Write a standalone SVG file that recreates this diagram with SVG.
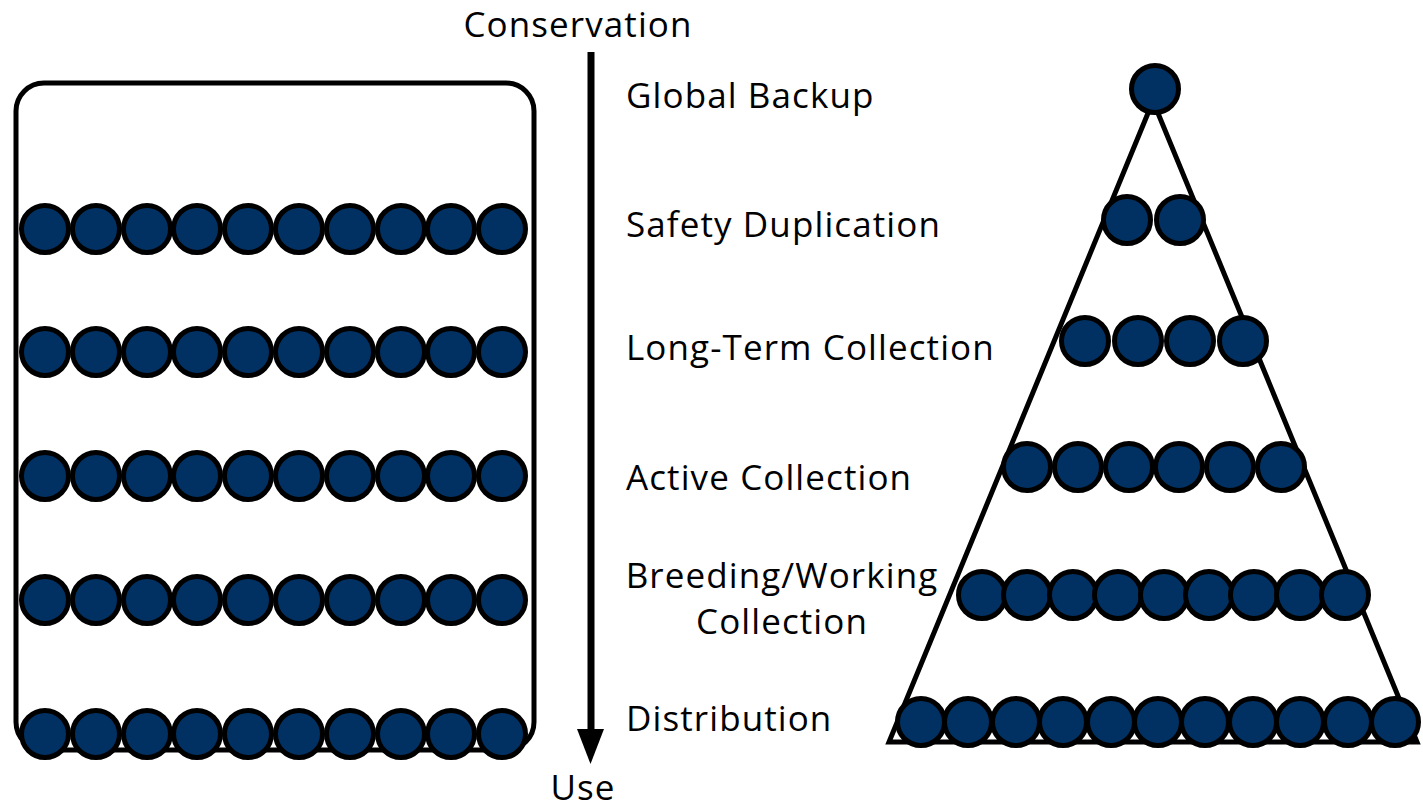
<svg xmlns="http://www.w3.org/2000/svg" width="1423" height="808" viewBox="0 0 1423 808">
<defs>
<style>
.dot{fill:#003162;stroke:#000;stroke-width:5}
.lbl{font-family:"Open Sans","Liberation Sans",sans-serif;font-size:35px;letter-spacing:1.1px;fill:#000}
.frame{fill:none;stroke:#000;stroke-width:5}
</style>
<circle id="d" r="23.5" class="dot"/>
</defs>
<rect width="1423" height="808" fill="#fff"/>
<g id="left-box">
<rect class="frame" x="16" y="83" width="518" height="667" rx="28"/>
</g>
<g id="left-rows">
<g id="row-l1"><use href="#d" x="45" y="229"/><use href="#d" x="96" y="229"/><use href="#d" x="147" y="229"/><use href="#d" x="197" y="229"/><use href="#d" x="248" y="229"/><use href="#d" x="299" y="229"/><use href="#d" x="350" y="229"/><use href="#d" x="401" y="229"/><use href="#d" x="451" y="229"/><use href="#d" x="502" y="229"/></g>
<g id="row-l2"><use href="#d" x="45" y="352"/><use href="#d" x="96" y="352"/><use href="#d" x="147" y="352"/><use href="#d" x="197" y="352"/><use href="#d" x="248" y="352"/><use href="#d" x="299" y="352"/><use href="#d" x="350" y="352"/><use href="#d" x="401" y="352"/><use href="#d" x="451" y="352"/><use href="#d" x="502" y="352"/></g>
<g id="row-l3"><use href="#d" x="45" y="476"/><use href="#d" x="96" y="476"/><use href="#d" x="147" y="476"/><use href="#d" x="197" y="476"/><use href="#d" x="248" y="476"/><use href="#d" x="299" y="476"/><use href="#d" x="350" y="476"/><use href="#d" x="401" y="476"/><use href="#d" x="451" y="476"/><use href="#d" x="502" y="476"/></g>
<g id="row-l4"><use href="#d" x="45" y="600"/><use href="#d" x="96" y="600"/><use href="#d" x="147" y="600"/><use href="#d" x="197" y="600"/><use href="#d" x="248" y="600"/><use href="#d" x="299" y="600"/><use href="#d" x="350" y="600"/><use href="#d" x="401" y="600"/><use href="#d" x="451" y="600"/><use href="#d" x="502" y="600"/></g>
<g id="row-l5"><use href="#d" x="45" y="734"/><use href="#d" x="96" y="734"/><use href="#d" x="147" y="734"/><use href="#d" x="197" y="734"/><use href="#d" x="248" y="734"/><use href="#d" x="299" y="734"/><use href="#d" x="350" y="734"/><use href="#d" x="401" y="734"/><use href="#d" x="451" y="734"/><use href="#d" x="502" y="734"/></g>
</g>
<g id="connectors">
<line x1="591" y1="52" x2="591" y2="735" stroke="#000" stroke-width="7"/>
<polygon points="577,729 604,729 590.5,764" fill="#000"/>
</g>
<g id="axis-labels">
<text class="lbl" x="578" y="37" text-anchor="middle">Conservation</text>
<text class="lbl" x="583" y="800" text-anchor="middle">Use</text>
</g>
<g id="labels">
<text class="lbl" x="626" y="108">Global Backup</text>
<text class="lbl" x="626" y="237">Safety Duplication</text>
<text class="lbl" x="626" y="360">Long-Term Collection</text>
<text class="lbl" x="626" y="490">Active Collection</text>
<text class="lbl" x="782" y="588" text-anchor="middle">Breeding/Working</text>
<text class="lbl" x="782" y="634" text-anchor="middle">Collection</text>
<text class="lbl" x="626" y="731" letter-spacing="0.3">Distribution</text>
</g>
<g id="pyramid">
<polygon class="frame" points="1153,101 889,742 1417,742" stroke-linejoin="miter"/>
</g>
<g id="pyramid-rows">
<g id="row-p1"><use href="#d" x="1155" y="89"/></g>
<g id="row-p2"><use href="#d" x="1127" y="220"/><use href="#d" x="1180" y="220"/></g>
<g id="row-p3"><use href="#d" x="1085" y="341"/><use href="#d" x="1138" y="341"/><use href="#d" x="1190" y="341"/><use href="#d" x="1243" y="341"/></g>
<g id="row-p4"><use href="#d" x="1027" y="467"/><use href="#d" x="1078" y="467"/><use href="#d" x="1129" y="467"/><use href="#d" x="1179" y="467"/><use href="#d" x="1230" y="467"/><use href="#d" x="1281" y="467"/></g>
<g id="row-p5"><use href="#d" x="982" y="595"/><use href="#d" x="1027" y="595"/><use href="#d" x="1073" y="595"/><use href="#d" x="1118" y="595"/><use href="#d" x="1164" y="595"/><use href="#d" x="1209" y="595"/><use href="#d" x="1254" y="595"/><use href="#d" x="1300" y="595"/><use href="#d" x="1345" y="595"/></g>
<g id="row-p6"><use href="#d" x="921" y="722"/><use href="#d" x="968" y="722"/><use href="#d" x="1016" y="722"/><use href="#d" x="1063" y="722"/><use href="#d" x="1111" y="722"/><use href="#d" x="1158" y="722"/><use href="#d" x="1205" y="722"/><use href="#d" x="1253" y="722"/><use href="#d" x="1300" y="722"/><use href="#d" x="1348" y="722"/><use href="#d" x="1395" y="722"/></g>
</g>
</svg>
